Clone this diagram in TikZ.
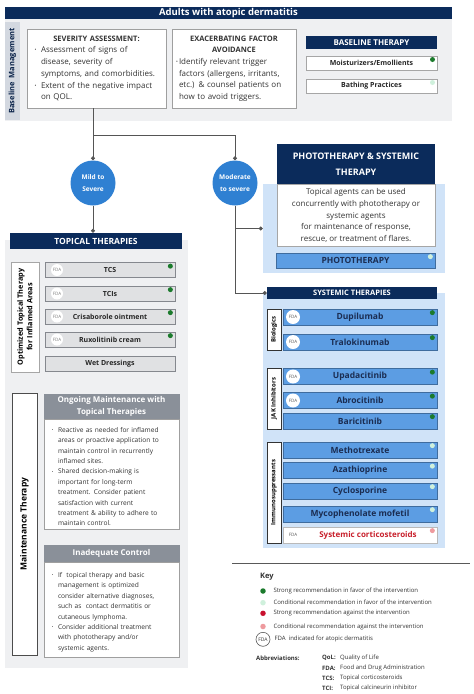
\documentclass[tikz,border=0pt]{standalone}
\usepackage{fontspec}
\setmainfont{Open Sans}
\usetikzlibrary{arrows.meta,positioning,calc}

\definecolor{navy}{HTML}{0B2B5B}
\definecolor{panelgray}{HTML}{EFF0F2}
\definecolor{stripgray}{HTML}{D3D8E0}
\definecolor{lightblue}{HTML}{D0E3F8}
\definecolor{barblue}{HTML}{5C9DE3}
\definecolor{barline}{HTML}{3F6C9E}
\definecolor{circblue}{HTML}{2F80D2}
\definecolor{tbargray}{HTML}{E0E1E3}
\definecolor{tbarline}{HTML}{85888E}
\definecolor{headgray}{HTML}{8A9099}
\definecolor{txtdark}{HTML}{333333}
\definecolor{bartxt}{HTML}{1B2D52}
\definecolor{sgreen}{HTML}{1B7A2C}
\definecolor{cgreen}{HTML}{CFF0DC}
\definecolor{sred}{HTML}{C8102E}
\definecolor{cred}{HTML}{EE9A9E}
\definecolor{redtxt}{HTML}{C8202C}
\definecolor{linegray}{HTML}{555555}

\newcommand{\fsz}[2]{\fontsize{#1pt}{#2pt}\selectfont}
% bullet item: bullet column width, text width, text
\newcommand{\bulitem}[3]{\par\noindent\makebox[#1][c]{\raisebox{.25ex}{\scalebox{.6}{\textbullet}}}%
  \parbox[t]{#2}{\raggedright #3\par\xdef\bulpd{\the\prevdepth}}\par\prevdepth=\bulpd\relax}

\begin{document}
\begin{tikzpicture}[x=1pt, y=-1pt, >=Stealth,
    panel/.style={fill=#1, inner sep=0pt},
    head/.style={fill=navy, text=white, inner sep=0pt, align=center},
    txtbox/.style={draw=gray!75, fill=white, line width=0.8pt, align=left,
                   inner xsep=3pt, inner ysep=0pt, text=txtdark},
    tbar/.style={draw=tbarline, fill=tbargray, line width=0.7pt, minimum width=130pt,
                 minimum height=15pt, inner sep=0pt, font=\bfseries\fsz{7}{8}, text=black!85},
    sbar/.style={draw=barline, fill=barblue, line width=0.7pt, minimum width=154pt,
                 minimum height=16pt, inner sep=0pt, font=\bfseries\fsz{8.5}{10}, text=bartxt},
    vlab/.style={draw=#1, fill=white, line width=0.8pt, rotate=90, inner sep=0pt,
                 align=center, text=black},
    dot/.style={circle, fill=#1, inner sep=0pt, minimum size=5pt},
    fda/.style={circle, fill=white, inner sep=0pt, minimum size=14pt,
                font=\fsz{4.5}{5}, text=black!65},
    sev/.style={circle, fill=circblue, text=white, minimum size=45pt, inner sep=0pt,
                align=center, font=\bfseries\fsz{6.5}{12.5}},
    ln/.style={line width=0.9pt, draw=linegray},
    conn/.style={ln, -{Circle[length=4pt]}},
    keytxt/.style={anchor=west, inner sep=0pt, font=\fsz{6}{7}, text=txtdark}]

  \useasboundingbox (0,0) rectangle (474,694);
  \fill[white] (0,0) rectangle (474,694);

  %% ── Baseline management ─────────────────────────────────
  \node[head, minimum width=447pt, minimum height=12pt, font=\bfseries\fsz{9.5}{11}]
    (title) at (228.5,13) {Adults with atopic dermatitis};
  \node[panel=panelgray, minimum width=447pt, minimum height=102pt] (basebg) at (228.5,70) {};
  \node[panel=stripgray, rotate=90, minimum width=98pt, minimum height=15pt,
        font=\bfseries\fsz{7.5}{9}, text=navy!80!black] (baselab) at (12.5,71)
    {Baseline\ \ Management};

  \node[txtbox, text width=133pt, minimum height=79pt, font=\fsz{8}{11.7}] (sevbox) at (96.5,68.5)
    {{\centering\bfseries\fsz{7.5}{11.7}SEVERITY ASSESSMENT:\par}%
     \bulitem{11pt}{122pt}{Assessment of signs of\\disease, severity of\\symptoms, and comorbidities.}%
     \bulitem{11pt}{122pt}{Extent of the negative impact\\on QOL.}};
  \node[txtbox, text width=118pt, minimum height=79pt, font=\fsz{8}{11.7}] (exabox) at (234,68.5)
    {{\centering\bfseries\fsz{7.5}{11.7}EXACERBATING FACTOR\\AVOIDANCE\par}%
     \bulitem{4pt}{114pt}{Identify relevant trigger\\factors (allergens, irritants,\\
     etc.) \& counsel patients on\\how to avoid triggers.}};

  \node[head, minimum width=131pt, minimum height=13pt, font=\bfseries\fsz{8}{9}]
    (bthead) at (371.5,42.5) {BASELINE THERAPY};
  \node[tbar, fill=white, draw=gray!70, line width=1pt, minimum width=131pt, minimum height=14pt]
    (moist) at (371.5,63) {Moisturizers/Emollients};
  \node[tbar, fill=white, draw=gray!70, line width=1pt, minimum width=131pt, minimum height=14pt]
    (bath) at (371.5,86) {Bathing Practices};
  \node[dot=sgreen] (moistdot) at ([shift={(-5,4)}]moist.north east) {};
  \node[dot=cgreen] (bathdot) at ([shift={(-5,4)}]bath.north east) {};

  %% ── Severity split ──────────────────────────────────────
  \node[sev] (mild) at (93,183) {Mild to\\Severe};
  \node[sev] (mod) at (235,183) {Moderate\\to severe};
  \coordinate (split) at (93,135);
  \draw[conn] (sevbox.south -| mild) -- (mild.north);
  \draw[conn] (split) -| (mod.north);

  %% ── Phototherapy & systemic ─────────────────────────────
  \node[panel=lightblue, minimum width=182pt, minimum height=89pt] (photobg) at (354,228.5) {};
  \node[head, minimum width=158pt, minimum height=41pt, font=\bfseries\fsz{9}{16}]
    (photohead) at (356,164.5) {PHOTOTHERAPY \& SYSTEMIC\\THERAPY};
  \node[draw=gray!70, fill=white, minimum width=158pt, minimum height=62pt, align=center,
        inner sep=0pt, font=\fsz{8}{11.8}, text=txtdark] (phototxt) at (356,215.5)
    {Topical agents can be used\\concurrently with phototherapy or\\systemic agents\\
     for maintenance of response,\\rescue, or treatment of flares.};
  \node[sbar, minimum width=159pt, minimum height=15pt] (photobar) at (355.5,260.5) {PHOTOTHERAPY};
  \node[dot=cgreen] (photodot) at ([shift={(-5,4)}]photobar.north east) {};

  \node[panel=lightblue, minimum width=182pt, minimum height=255pt] (sysbg) at (354,420.5) {};
  \node[head, minimum width=170pt, minimum height=12pt, font=\bfseries\fsz{7.5}{9}]
    (syshead) at (352,293) {SYSTEMIC THERAPIES};

  \draw[conn] (mod.south |- photobg.west) -- (photobg.west);
  \draw[conn] (mod.south) |- (syshead.west);

  %% groups
  \node[vlab=black!80, minimum width=41pt, minimum height=14pt, font=\bfseries\fsz{6}{7}]
    (biolab) at (274,329.5) {Biologics};
  \node[vlab=black!80, minimum width=61pt, minimum height=14pt, font=\bfseries\fsz{6}{7}]
    (jaklab) at (274,398.5) {JAK Inhibitors};
  \node[vlab=black!80, minimum width=101pt, minimum height=14pt, font=\bfseries\fsz{6}{7}]
    (immlab) at (274,492.5) {Immunosuppressants};

  \foreach \y/\nm/\lbl/\dc/\f in {317/dupi/Dupilumab/sgreen/1, 342/tralo/Tralokinumab/sgreen/1,
      376.5/upa/Upadacitinib/sgreen/1, 400.5/abro/Abrocitinib/sgreen/1,
      421/bari/Baricitinib/sgreen/0, 450/mtx/Methotrexate/cgreen/0,
      470.5/aza/Azathioprine/cgreen/0, 491/cyc/Cyclosporine/cgreen/0,
      514/myc/Mycophenolate mofetil/cgreen/0}{
    \node[sbar] (\nm) at (360,\y) {\lbl};
    \node[dot=\dc] (\nm dot) at ([shift={(-5,4)}]\nm.north east) {};
    \ifnum\f=1 \node[fda] (\nm fda) at (293,\y) {FDA}; \fi
  }
  \node[sbar, fill=white, draw=gray!55, text=redtxt, font=\bfseries\fsz{8}{10}] (cortico) at (360,535)
    {\hspace*{16pt}Systemic corticosteroids};
  \node[inner sep=0pt, font=\fsz{4.5}{5}, text=black!65] (corticofda) at (293,535) {FDA};
  \node[dot=cred] (corticodot) at ([shift={(-5,4)}]cortico.north east) {};

  %% ── Topical therapies ───────────────────────────────────
  \node[panel=panelgray, minimum width=183pt, minimum height=428pt] (topbg) at (96.5,454) {};
  \node[head, minimum width=172pt, minimum height=16pt, font=\bfseries\fsz{8.5}{10}]
    (tophead) at (96,241) {TOPICAL THERAPIES};
  \draw[conn] (mild.south) -- (mild.south |- tophead.north);

  \node[vlab=gray!70, minimum width=110pt, minimum height=28pt, font=\bfseries\fsz{7.3}{9.5}]
    (optlab) at (25,317) {Optimized Topical Therapy\\for Inflamed Areas};
  \foreach \y/\nm/\lbl in {270/tcs/TCS, 293.5/tci/TCIs, 316.5/cris/Crisaborole ointment,
      339.5/rux/Ruxolitinib cream}{
    \node[tbar] (\nm) at (110,\y) {\lbl};
    \node[fda, minimum size=12pt, text=black!50] (\nm fda) at (57,\y) {FDA};
    \node[dot=sgreen] (\nm dot) at ([shift={(-5,4)}]\nm.north east) {};
  }
  \node[tbar] (wet) at (110,363.5) {Wet Dressings};

  %% maintenance
  \node[vlab=black!70, minimum width=262pt, minimum height=25pt, font=\bfseries\fsz{8.5}{10}]
    (mtlab) at (24.5,524) {Maintenance Therapy};
  \node[fill=headgray, draw=headgray, text=white, minimum width=135pt, minimum height=25pt,
        inner sep=0pt, align=center, font=\bfseries\fsz{8}{11.7}] (onghead) at (111.5,406.5)
    {Ongoing Maintenance with\\Topical Therapies};
  \node[txtbox, text width=129pt, minimum height=110pt, font=\fsz{6.6}{10.4}] (ongbody) at (111.5,474)
    {\bulitem{11pt}{118pt}{Reactive as needed for inflamed\\areas or proactive application to\\
     maintain control in recurrently\\inflamed sites.}%
     \bulitem{11pt}{118pt}{Shared decision-making is\\important for long-term\\
     treatment. Consider patient\\satisfaction with current\\
     treatment \& ability to adhere to\\maintain control.}};
  \node[fill=headgray, draw=headgray, text=white, minimum width=135pt, minimum height=17pt,
        inner sep=0pt, font=\bfseries\fsz{8}{10}] (inahead) at (111.5,553.5) {Inadequate Control};
  \node[txtbox, text width=129pt, minimum height=95pt, font=\fsz{6.6}{10.4}] (inabody) at (111.5,609.5)
    {\bulitem{11pt}{118pt}{If\ \ topical therapy and basic\\management is optimized\\
     consider alternative diagnoses,\\such as\ \ contact dermatitis or\\cutaneous lymphoma.}%
     \bulitem{11pt}{118pt}{Consider additional treatment\\with phototherapy and/or\\systemic agents.}};

  %% ── Key ─────────────────────────────────────────────────
  \draw[line width=0.8pt, draw=gray!70!black] (232,563) -- (470,563);
  \node[keytxt, font=\bfseries\fsz{7.5}{9}] (keyttl) at (260,577) {Key};
  \foreach \y/\dc/\lbl [count=\i] in {591/sgreen/Strong recommendation in favor of the intervention,
      602.7/cgreen/Conditional recommendation in favor of the intervention,
      613.3/sred/Strong recommendation against the intervention,
      626.5/cred/Conditional recommendation against the intervention}{
    \node[dot=\dc, minimum size=5.5pt] (kdot\i) at (263,\y) {};
    \node[keytxt] (ktxt\i) at (273.3,\y) {\lbl};
  }
  \node[fda, draw=gray!70!black, line width=0.6pt, font=\fsz{5}{6}, text=txtdark]
    (kfda) at (263,639.3) {FDA};
  \node[keytxt] (kfdatxt) at (274.3,639.3) {FDA\ \ indicated for atopic dermatitis};

  \node[keytxt, font=\bfseries\fsz{6}{7}] (abbr) at (256,658.3) {Abbreviations:};
  \foreach \y/\ab/\lbl [count=\i] in {658.3/QoL:/Quality of Life, 668.3/FDA:/Food and Drug Administration,
      678.3/TCS:/Topical corticosteroids, 688.3/TCI:/Topical calcineurin inhibitor}{
    \node[keytxt, font=\bfseries\fsz{6}{7}] (abk\i) at (322,\y) {\ab};
    \node[keytxt] (abv\i) at (340,\y) {\lbl};
  }

\end{tikzpicture}
\end{document}
